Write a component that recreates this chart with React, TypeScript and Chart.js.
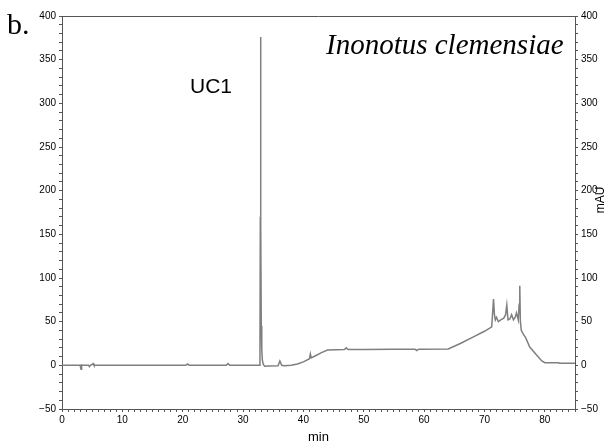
import React, { useEffect, useRef } from "react";
import { Chart, registerables } from "chart.js";

Chart.register(...registerables);

// Retention time (min) and absorbance (mAU)
const timeMin = [
  0, 3.0, 3.15, 3.25, 3.4, 4.4, 4.55, 4.7, 5.0, 5.15, 5.3,
  20.5, 20.8, 21.1, 27.2, 27.5, 27.8,
  32.7, 32.8, 32.86, 32.9, 32.95, 33.02, 33.1, 33.2, 33.35, 33.6, 34.2,
  35.8, 36.1, 36.4, 36.8, 38.0, 39.0, 40.0, 41.0, 41.15, 41.3, 42.0, 43.0, 44.0,
  46.8, 47.1, 47.4, 50.0, 55.0, 58.5, 58.8, 59.1, 64.0, 66.0, 68.0, 70.0,
  71.2, 71.35, 71.5, 71.65, 71.8, 72.0, 72.3, 72.7, 73.2, 73.5, 73.7, 73.9,
  74.2, 74.5, 74.8, 75.1, 75.3, 75.6, 75.75, 75.85, 75.95, 76.1, 76.4, 76.8,
  77.5, 78.6, 79.5, 80.0, 82.3, 82.4, 85.0,
];
const absorbance = [
  0, 0, -4.5, 0.5, 0, 0, -1.5, 0, 1, 2, 0,
  0, 1.5, 0, 0, 2, 0,
  0, 8, 170, 376, 160, 45, 18, 6, 1, -1, -0.8,
  -0.5, 5, 0, -0.5, 0, 1.5, 4, 7.5, 13, 8.5, 11, 14.5, 17.5,
  18, 20, 18, 18.2, 18.3, 18.3, 17, 18.5, 18.7, 25, 32, 39,
  44, 60, 76, 58, 52, 55, 50, 52, 54, 58, 69, 52,
  53, 58, 52, 55, 60, 52, 70, 91, 50, 40, 36, 32,
  21, 12, 5, 3, 3, 2.5, 2.5,
];

const xMajorTicks = [0, 10, 20, 30, 40, 50, 60, 70, 80];
const yMajorTicks = [-50, 0, 50, 100, 150, 200, 250, 300, 350, 400];
const xMinorStep = 1;
const yMinorStep = 10;

const X_MIN = 0;
const X_MAX = 85;
const Y_MIN = -50;
const Y_MAX = 400;

const panelLabel = "b.";
const peakLabel = "UC1";
const speciesLabel = "Inonotus clemensiae";
const xTitle = "min";
const yTitle = "mAU";

const SANS = "'Liberation Sans', Arial, sans-serif";
const SERIF = "'Liberation Serif', 'Times New Roman', serif";
const AXIS_COLOR = "#555555";

function buildTicks(min: number, max: number, step: number) {
  const out: { value: number }[] = [];
  const n = Math.round((max - min) / step);
  for (let i = 0; i <= n; i++) out.push({ value: min + i * step });
  return out;
}

const annotationPlugin = {
  id: "annotations",
  afterDraw(chart: any) {
    const ctx = chart.ctx;
    const area = chart.chartArea;
    ctx.save();
    // top frame line
    ctx.strokeStyle = AXIS_COLOR;
    ctx.lineWidth = 1;
    ctx.beginPath();
    ctx.moveTo(area.left, area.top + 0.5);
    ctx.lineTo(area.right, area.top + 0.5);
    ctx.stroke();

    ctx.fillStyle = "#000";
    ctx.textBaseline = "alphabetic";
    ctx.textAlign = "left";
    ctx.font = `30px ${SERIF}`;
    ctx.fillText(panelLabel, 7, 34);

    ctx.font = `21px ${SANS}`;
    ctx.fillText(peakLabel, 190, 93);

    ctx.font = `italic 29px ${SERIF}`;
    ctx.fillText(speciesLabel, 326, 54);

    ctx.font = `12px ${SANS}`;
    ctx.translate(601, 200);
    ctx.rotate(-Math.PI / 2);
    ctx.textAlign = "center";
    ctx.textBaseline = "middle";
    ctx.fillText(yTitle, 0, 0);
    ctx.restore();
  },
};

export default function App() {
  const ref = useRef<HTMLCanvasElement | null>(null);

  useEffect(() => {
    if (!ref.current) return;
    const tickFont = { family: SANS, size: 10 };
    const yScaleCommon = {
      type: "linear" as const,
      min: Y_MIN,
      max: Y_MAX,
      afterBuildTicks: (s: any) => {
        s.ticks = buildTicks(Y_MIN, Y_MAX, yMinorStep);
      },
      ticks: {
        autoSkip: false,
        color: "#000",
        font: tickFont,
        padding: 3,
        callback: (v: any) => (yMajorTicks.includes(Number(v)) ? String(v).replace("-", "\u2212") : ""),
      },
      grid: { display: true, drawOnChartArea: false, tickLength: 3, color: AXIS_COLOR },
      border: { display: true, color: AXIS_COLOR, width: 1 },
    };
    const chart = new Chart(ref.current, {
      type: "scatter",
      data: {
        datasets: [
          {
            data: timeMin.map((t, i) => ({ x: t, y: absorbance[i] })),
            showLine: true,
            borderColor: "#7f7f7f",
            borderWidth: 1.5,
            pointRadius: 0,
            tension: 0,
            yAxisID: "y",
          },
        ],
      },
      options: {
        animation: false,
        responsive: false,
        maintainAspectRatio: false,
        layout: { padding: { top: 16, left: 0, right: 0, bottom: 0 } },
        plugins: { legend: { display: false }, tooltip: { enabled: false } },
        scales: {
          x: {
            type: "linear",
            min: X_MIN,
            max: X_MAX,
            afterBuildTicks: (s: any) => {
              s.ticks = buildTicks(X_MIN, X_MAX, xMinorStep);
            },
            ticks: {
              autoSkip: false,
              maxRotation: 0,
              color: "#000",
              font: tickFont,
              padding: 2,
              callback: (v: any) => (xMajorTicks.includes(Number(v)) ? String(v) : ""),
            },
            grid: { display: true, drawOnChartArea: false, tickLength: 3, color: AXIS_COLOR },
            border: { display: true, color: AXIS_COLOR, width: 1 },
            title: {
              display: true,
              text: xTitle,
              color: "#000",
              font: { family: SANS, size: 13 },
              padding: { top: 0, bottom: 3 },
            },
            afterFit: (s: any) => {
              s.height = 39;
            },
          },
          y: {
            ...yScaleCommon,
            position: "left",
            afterFit: (s: any) => {
              s.width = 62;
            },
          },
          y2: {
            ...yScaleCommon,
            position: "right",
            afterFit: (s: any) => {
              s.width = 38;
            },
          },
        },
      } as any,
      plugins: [annotationPlugin],
    });
    return () => chart.destroy();
  }, []);

  return (
    <div style={{ position: "absolute", left: 0, top: 0, width: 613, height: 448, background: "#fff" }}>
      <canvas ref={ref} width={613} height={448} style={{ width: 613, height: 448, display: "block" }} />
    </div>
  );
}
